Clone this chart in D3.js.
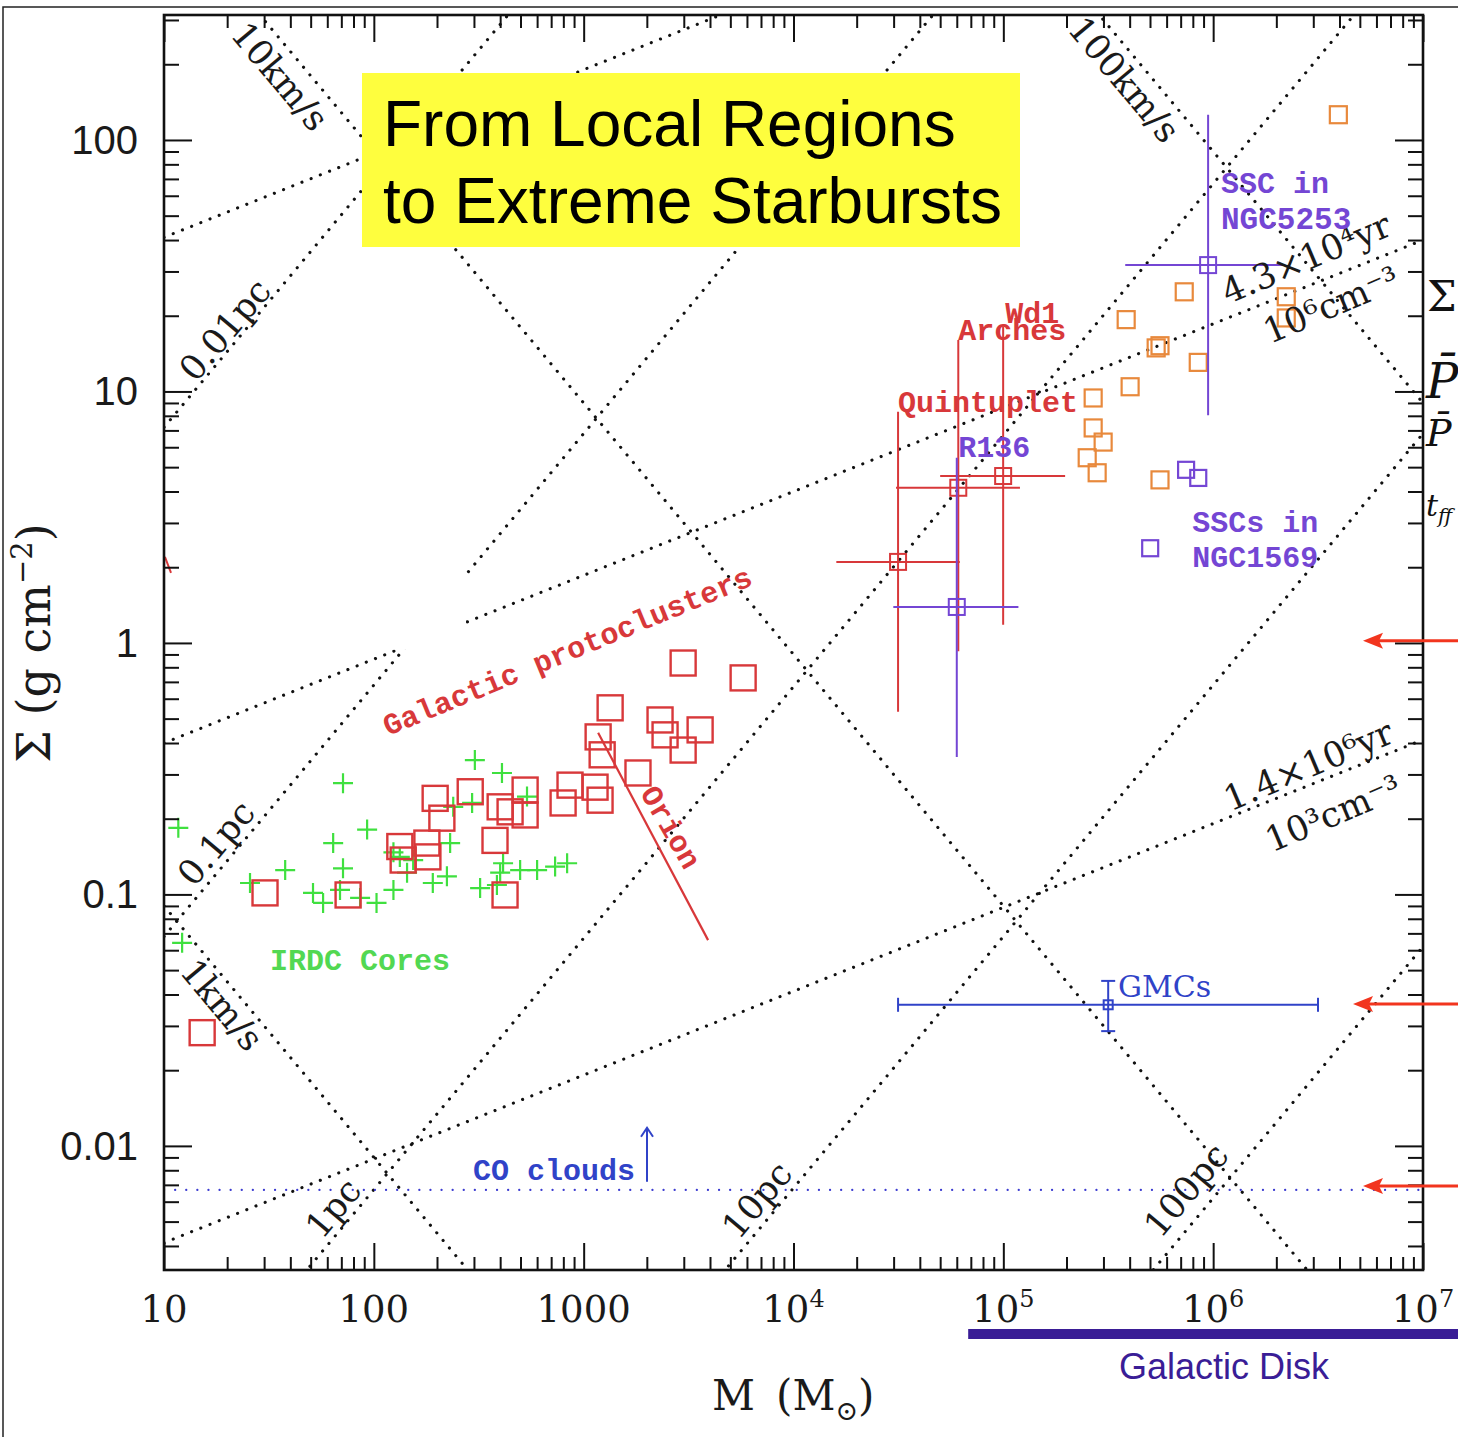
<!DOCTYPE html>
<html>
<head>
<meta charset="utf-8">
<script src="https://d3js.org/d3.v7.min.js"></script>
<style>
  body { margin: 0; background: #fff; }
  svg { display: block; }
  .serif { font-family: "DejaVu Serif", serif; }
  .mono { font-family: "Liberation Mono", "DejaVu Sans Mono", monospace; }
  .sans { font-family: "Liberation Sans", Helvetica, Arial, sans-serif; }
</style>
</head>
<body>
<svg id="chart" width="1458" height="1437"></svg>
<script>
// ---- axes ----
const massDomain = [10, 1e7];
const sigmaDomain = [0.00321, 314];
const xTickValues = [10, 100, 1000, 1e4, 1e5, 1e6, 1e7];
const xTickLabels = [["10", ""], ["100", ""], ["1000", ""], ["10", "4"], ["10", "5"], ["10", "6"], ["10", "7"]];
const yTickValues = [0.01, 0.1, 1, 10, 100];
const yTickLabels = ["0.01", "0.1", "1", "10", "100"];

// ---- IRDC cores (green crosses) ----
const irdcMass = [11.7, 12.2, 71.3, 92.9, 64, 71.3, 37.8, 25.7, 51.3, 57.3, 69, 86, 103, 124, 144, 154, 133,
  191, 223, 231, 239, 303, 408, 294, 537, 413, 400, 498, 600, 731, 834, 321, 386, 124];
const irdcSigma = [0.184, 0.0642, 0.277, 0.181, 0.160, 0.127, 0.125, 0.111, 0.1014, 0.0925, 0.1042, 0.0968,
  0.0925, 0.1042, 0.122, 0.137, 0.141, 0.111, 0.118, 0.160, 0.223, 0.342, 0.304, 0.231, 0.245, 0.133, 0.122,
  0.125, 0.125, 0.129, 0.133, 0.106, 0.109, 0.147];

// ---- Galactic protoclusters (red squares) ----
const protoMass = [15.2, 30.3, 75.4, 133, 138, 179, 181, 211, 196, 288, 378, 400, 422, 446, 526, 526, 798, 861,
  1133, 1197, 1815, 1172, 1225, 1337, 2312, 2443, 2979, 3589, 2979, 5754];
const protoSigma = [0.0282, 0.1014, 0.0995, 0.155, 0.137, 0.160, 0.141, 0.201, 0.241, 0.256, 0.164, 0.223,
  0.0995, 0.213, 0.260, 0.207, 0.231, 0.272, 0.267, 0.237, 0.304, 0.423, 0.359, 0.552, 0.494, 0.431, 0.375,
  0.451, 0.832, 0.726];
const orionMass = [1172, 3917];
const orionSigma = [0.439, 0.0658];

// ---- massive star clusters (orange squares) ----
const clusterMassOrange = [3.95e6, 7.28e5, 3.85e5, 5.35e5, 5.58e5, 8.49e5, 4.02e5, 2.68e5, 2.68e5, 2.99e5,
  2.51e5, 2.80e5, 5.58e5, 2.23e6, 2.23e6];
const clusterSigmaOrange = [126, 24.9, 19.3, 14.9, 15.2, 13.05, 10.44, 9.42, 7.16, 6.29, 5.45, 4.75, 4.45, 23.8, 19.6];

// ---- SSCs in NGC1569 (purple squares) ----
const ngc1569Mass = [7.43e5, 8.49e5, 5.01e5];
const ngc1569Sigma = [4.88, 4.53, 2.38];

// ---- objects with error bars ----
const ebNames = ["Quintuplet", "Arches", "Wd1", "R136", "NGC5253", "GMCs"];
const ebMass = [3.15e4, 6.1e4, 9.98e4, 6.0e4, 9.46e5, 3.16e5];
const ebSigma = [2.10, 4.14, 4.61, 1.39, 31.8, 0.0364];
const ebMassLo = [1.6e4, 3.08e4, 5.0e4, 2.99e4, 3.81e5, 3.15e4];
const ebMassHi = [6.2e4, 1.2e5, 1.97e5, 1.18e5, 2.16e6, 3.16e6];
const ebSigmaLo = [0.532, 0.926, 1.18, 0.352, 8.05, 0.0286];
const ebSigmaHi = [8.3, 16.0, 18.1, 5.45, 126, 0.0453];

// ---- CO clouds level ----
const coSigma = 0.00668;
const coArrowMass = 2004;
const coArrowSigma = [0.0072, 0.0118];

// ---- guide lines: Sigma at M = 10 and log slope ----
const radiusLabels = ["0.01pc", "0.1pc", "1pc", "10pc", "100pc"];
const radiusSigmaAt10 = [7.2, 0.068, 6.7e-4, 6.8e-6, 6.2e-8];
const velocityLabels = ["1km/s", "10km/s", "100km/s"];
const velocitySigmaAt10 = [0.09, 900, 9e6];
const densityLabels = ["10³cm⁻³", "10⁶cm⁻³", "10⁹cm⁻³"];
const densitySigmaAt10 = [0.00412, 0.40, 41];

// arrows on the right edge
const arrowSigma = [1.02, 0.0367, 0.00693];

const W = 1458, H = 1437;
const plot = { left: 164, right: 1423, top: 15, bottom: 1270 };
const x = d3.scaleLog().domain(massDomain).range([plot.left, plot.right]);
const y = d3.scaleLog().domain(sigmaDomain).range([plot.bottom, plot.top]);

const red = "#d8383a", orange = "#e8893c", purple = "#7446d4", blue = "#3043c8", green = "#3fe03f";
const colorOf = { Quintuplet: red, Arches: red, Wd1: red, R136: purple, NGC5253: purple, GMCs: blue };

const svg = d3.select("#chart");
svg.append("rect").attr("width", W).attr("height", H).attr("fill", "#fff");
svg.append("rect").attr("x", 3).attr("y", 7).attr("width", 1500).attr("height", 1500)
  .attr("fill", "none").attr("stroke", "#222").attr("stroke-width", 1.5);

svg.append("defs").append("clipPath").attr("id", "clip").append("rect")
  .attr("x", plot.left).attr("y", plot.top)
  .attr("width", plot.right - plot.left).attr("height", plot.bottom - plot.top);

const body = svg.append("g").attr("clip-path", "url(#clip)");
const line = d3.line().x(d => x(d[0])).y(d => y(d[1]));

function guide(s10, slope) {
  return [[10, s10], [1e7, s10 * Math.pow(1e6, slope)]];
}
const guides = []
  .concat(radiusSigmaAt10.map(s => guide(s, 1)))
  .concat(velocitySigmaAt10.map(s => guide(s, -1)))
  .concat(densitySigmaAt10.map(s => guide(s, 1 / 3)));

body.append("g").selectAll("path").data(guides).join("path")
  .attr("d", line).attr("fill", "none").attr("stroke", "#111")
  .attr("stroke-width", 3.1).attr("stroke-linecap", "round").attr("stroke-dasharray", "0.1 9.8");

// CO clouds dotted level
body.append("path").attr("d", line([[10, coSigma], [1e7, coSigma]]))
  .attr("fill", "none").attr("stroke", "#3a3ad0").attr("stroke-width", 2.2)
  .attr("stroke-linecap", "round").attr("stroke-dasharray", "0.1 11");

// blank patch in the source figure
body.append("rect").attr("x", x(19)).attr("y", y(2.75))
  .attr("width", x(275) - x(19)).attr("height", y(0.94) - y(2.75)).attr("fill", "#fff");
body.append("path").attr("d", line([[10.1, 2.2], [10.8, 1.9]]))
  .attr("stroke", red).attr("stroke-width", 2);

// Orion line
body.append("path").attr("d", line(orionMass.map((m, i) => [m, orionSigma[i]])))
  .attr("stroke", red).attr("stroke-width", 2.2).attr("fill", "none");

// IRDC crosses
const plusSize = 10;
body.append("g").selectAll("path").data(irdcMass.map((m, i) => [m, irdcSigma[i]])).join("path")
  .attr("d", d => {
    const cx = x(d[0]), cy = y(d[1]);
    return `M${cx - plusSize},${cy}H${cx + plusSize}M${cx},${cy - plusSize}V${cy + plusSize}`;
  })
  .attr("stroke", green).attr("stroke-width", 2.2);

function squares(g, ms, ss, size, color, width) {
  g.append("g").selectAll("rect").data(ms.map((m, i) => [m, ss[i]])).join("rect")
    .attr("x", d => x(d[0]) - size / 2).attr("y", d => y(d[1]) - size / 2)
    .attr("width", size).attr("height", size)
    .attr("fill", "none").attr("stroke", color).attr("stroke-width", width);
}
squares(body, protoMass, protoSigma, 25, red, 2.4);
squares(body, clusterMassOrange, clusterSigmaOrange, 17, orange, 2.2);
squares(body, ngc1569Mass, ngc1569Sigma, 16, purple, 2.2);

// error bars
const eb = body.append("g");
ebNames.forEach((name, i) => {
  const c = colorOf[name];
  const cx = x(ebMass[i]), cy = y(ebSigma[i]);
  eb.append("line").attr("x1", x(ebMassLo[i])).attr("x2", x(ebMassHi[i])).attr("y1", cy).attr("y2", cy)
    .attr("stroke", c).attr("stroke-width", 2);
  eb.append("line").attr("x1", cx).attr("x2", cx).attr("y1", y(ebSigmaLo[i])).attr("y2", y(ebSigmaHi[i]))
    .attr("stroke", c).attr("stroke-width", 2);
  const s = name === "GMCs" ? 9 : 16;
  eb.append("rect").attr("x", cx - s / 2).attr("y", cy - s / 2).attr("width", s).attr("height", s)
    .attr("fill", "none").attr("stroke", c).attr("stroke-width", 2);
  if (name === "GMCs") {
    const caps = [[x(ebMassLo[i]), cy, 1], [x(ebMassHi[i]), cy, 1], [cx, y(ebSigmaLo[i]), 0], [cx, y(ebSigmaHi[i]), 0]];
    caps.forEach(([px, py, vert]) => {
      eb.append("line")
        .attr("x1", vert ? px : px - 7).attr("x2", vert ? px : px + 7)
        .attr("y1", vert ? py - 7 : py).attr("y2", vert ? py + 7 : py)
        .attr("stroke", c).attr("stroke-width", 2);
    });
  }
});

// CO arrow
body.append("line").attr("x1", x(coArrowMass)).attr("x2", x(coArrowMass))
  .attr("y1", y(coArrowSigma[0])).attr("y2", y(coArrowSigma[1]))
  .attr("stroke", blue).attr("stroke-width", 2);
body.append("path").attr("d", () => {
  const px = x(coArrowMass), py = y(coArrowSigma[1]);
  return `M${px - 6},${py + 9}L${px},${py}L${px + 6},${py + 9}`;
}).attr("fill", "none").attr("stroke", blue).attr("stroke-width", 2);

// ---- guide line labels (center positions in data units) ----
const guideText = [
  ["0.01pc", 19.5, 17.6, -50], ["0.1pc", 17.7, 0.160, -50], ["1pc", 64, 0.00566, -50],
  ["10pc", 6700, 0.0061, -50], ["100pc", 7.43e5, 0.00668, -50],
  ["1km/s", 18.9, 0.0364, 50], ["10km/s", 35.7, 179, 50], ["100km/s", 3.77e5, 174, 50],
  ["4.3×10⁴yr", 2.77e6, 33.9, -23], ["10⁶cm⁻³", 3.65e6, 22.1, -23],
  ["1.4×10⁶yr", 2.84e6, 0.326, -23], ["10³cm⁻³", 3.73e6, 0.210, -23]
];
svg.append("g").attr("class", "serif").attr("font-size", 35).attr("fill", "#1a1a1a")
  .selectAll("text").data(guideText).join("text")
  .attr("text-anchor", "middle").attr("dy", "0.35em")
  .attr("transform", d => `translate(${x(d[1])},${y(d[2])}) rotate(${d[3]})`)
  .text(d => d[0]);

// ---- coloured labels (baseline, data units) ----
const labelText = [
  ["IRDC Cores", 32, 0.0501, 0, "#52d852", "start", 30, "mono"],
  ["Galactic protoclusters", 871, 0.853, -22.5, red, "middle", 30, "mono"],
  ["Orion", 2366, 0.177, 60, red, "middle", 30, "mono"],
  ["Quintuplet", 3.15e4, 8.28, 0, red, "start", 30, "mono"],
  ["Arches", 6.1e4, 16.0, 0, red, "start", 30, "mono"],
  ["Wd1", 1.02e5, 18.7, 0, red, "start", 30, "mono"],
  ["R136", 6.1e4, 5.5, 0, purple, "start", 30, "mono"],
  ["SSC in", 1.09e6, 61.6, 0, purple, "start", 30, "mono"],
  ["NGC5253", 1.09e6, 44.3, 0, purple, "start", 31, "mono"],
  ["SSCs in", 7.94e5, 2.76, 0, purple, "start", 30, "mono"],
  ["NGC1569", 7.94e5, 2.0, 0, purple, "start", 30, "mono"],
  ["GMCs", 3.52e5, 0.0391, 0, blue, "start", 30, "serif"],
  ["CO clouds", 297, 0.00733, 0, blue, "start", 30, "mono"]
];
svg.append("g").selectAll("text").data(labelText).join("text")
  .attr("class", d => d[7])
  .attr("transform", d => `translate(${x(d[1])},${y(d[2])}) rotate(${d[3]})`)
  .attr("text-anchor", d => d[5]).attr("fill", d => d[4]).attr("font-size", d => d[6])
  .attr("font-weight", d => d[7] === "mono" ? "bold" : "normal")
  .text(d => d[0]);

// ---- frame and ticks ----
const majorMass = xTickValues;
const minorMass = [];
for (let e = 1; e < 7; e++) for (let k = 2; k < 10; k++) minorMass.push(k * Math.pow(10, e));
const majorSigma = [0.01, 0.1, 1, 10, 100];
const minorSigma = [];
for (let e = -3; e < 3; e++) for (let k = 2; k < 10; k++) {
  const v = k * Math.pow(10, e);
  if (v > sigmaDomain[0] && v < sigmaDomain[1]) minorSigma.push(v);
}

function ticks(axis, transform, values, size) {
  const g = svg.append("g").attr("transform", transform)
    .call(axis.tickValues(values).tickSize(size).tickSizeOuter(0).tickFormat(""));
  g.select(".domain").remove();
  g.selectAll(".tick line").attr("stroke", "#111").attr("stroke-width", 2);
}
ticks(d3.axisBottom(x), `translate(0,${plot.bottom})`, majorMass, -27);
ticks(d3.axisBottom(x), `translate(0,${plot.bottom})`, minorMass, -13);
ticks(d3.axisTop(x), `translate(0,${plot.top})`, majorMass, -27);
ticks(d3.axisTop(x), `translate(0,${plot.top})`, minorMass, -13);
ticks(d3.axisLeft(y), `translate(${plot.left},0)`, majorSigma, -28);
ticks(d3.axisLeft(y), `translate(${plot.left},0)`, minorSigma, -15);
ticks(d3.axisRight(y), `translate(${plot.right},0)`, majorSigma, -28);
ticks(d3.axisRight(y), `translate(${plot.right},0)`, minorSigma, -15);

svg.append("rect").attr("x", plot.left).attr("y", plot.top)
  .attr("width", plot.right - plot.left).attr("height", plot.bottom - plot.top)
  .attr("fill", "none").attr("stroke", "#111").attr("stroke-width", 2.6);

// tick labels
const xl = svg.append("g").attr("class", "serif").attr("font-size", 37).attr("fill", "#1a1a1a");
xTickValues.forEach((v, i) => {
  const t = xl.append("text").attr("x", x(v)).attr("y", 1322).attr("text-anchor", "middle");
  t.append("tspan").text(xTickLabels[i][0]);
  if (xTickLabels[i][1]) t.append("tspan").attr("dy", -15).attr("font-size", 24).text(xTickLabels[i][1]);
});
svg.append("g").attr("class", "sans").attr("font-size", 40).attr("fill", "#1a1a1a")
  .selectAll("text").data(yTickValues).join("text")
  .attr("x", 138).attr("y", d => y(d) + 14).attr("text-anchor", "end")
  .text((d, i) => yTickLabels[i]);

// axis titles
const xt = svg.append("text").attr("class", "serif").attr("font-size", 42).attr("fill", "#1a1a1a")
  .attr("y", 1410);
xt.append("tspan").attr("x", 712).text("M");
xt.append("tspan").attr("x", 776).text("(M");
xt.append("tspan").attr("font-size", 27).attr("dy", 10).text("⊙");
xt.append("tspan").attr("dy", -10).text(")");

const yt = svg.append("text").attr("class", "serif").attr("font-size", 46).attr("fill", "#1a1a1a")
  .attr("text-anchor", "middle").attr("transform", `translate(50,643) rotate(-90)`);
yt.append("tspan").text("Σ  (g  cm");
yt.append("tspan").attr("font-size", 29).attr("dy", -18).text("−2");
yt.append("tspan").attr("dy", 18).text(")");

// ---- title box ----
svg.append("rect").attr("x", 362).attr("y", 73).attr("width", 658).attr("height", 174).attr("fill", "#fefe3e");
svg.append("g").attr("class", "sans").attr("font-size", 64).attr("fill", "#000")
  .selectAll("text").data(["From Local Regions", "to Extreme Starbursts"]).join("text")
  .attr("x", 383).attr("y", (d, i) => 146 + i * 77).text(d => d);

// ---- symbols on the right edge ----
const edge = svg.append("g").attr("class", "serif").attr("fill", "#111");
edge.append("text").attr("x", 1427).attr("y", 311).attr("font-size", 42).text("Σ");
edge.append("text").attr("x", 1426).attr("y", 398).attr("font-size", 48).attr("font-style", "italic").text("P\u0304");
edge.append("text").attr("x", 1426).attr("y", 446).attr("font-size", 38).attr("font-style", "italic").text("P\u0304");
const tff = edge.append("text").attr("x", 1426).attr("y", 516).attr("font-size", 30).attr("font-style", "italic");
tff.append("tspan").text("t");
tff.append("tspan").attr("font-size", 20).attr("dy", 7).text("ff");

// red arrows
const arrows = svg.append("g");
arrowSigma.forEach((s, i) => {
  const py = y(s), tip = i === 1 ? 1353 : 1363;
  arrows.append("line").attr("x1", tip + 12).attr("x2", W + 5).attr("y1", py).attr("y2", py)
    .attr("stroke", "#f2351e").attr("stroke-width", 3);
  arrows.append("path").attr("d", `M${tip},${py}L${tip + 20},${py - 8}L${tip + 16},${py}L${tip + 20},${py + 8}Z`)
    .attr("fill", "#f2351e");
});

// galactic disk bar
svg.append("rect").attr("x", x(6.8e4)).attr("y", 1329).attr("width", W - x(6.8e4)).attr("height", 10)
  .attr("fill", "#3a1d96");
svg.append("text").attr("class", "sans").attr("font-size", 36).attr("fill", "#3a1d96")
  .attr("x", 1224).attr("y", 1379).attr("text-anchor", "middle").text("Galactic Disk");
</script>
</body>
</html>
